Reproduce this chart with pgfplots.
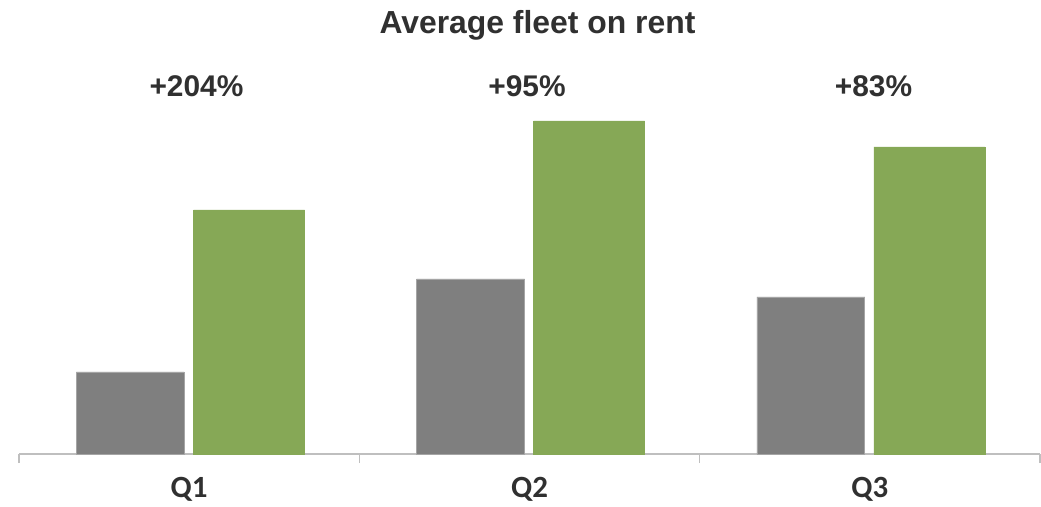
\documentclass[border=0pt]{standalone}
\usepackage{fontspec}
\setmainfont{Liberation Sans}
\newfontfamily\carlito{Carlito}
\usepackage{pgfplots}
\pgfplotsset{compat=1.18}
\definecolor{barGray}{HTML}{7F7F7F}
\definecolor{barGreen}{HTML}{86A856}
\definecolor{axGray}{HTML}{BFBFBF}
\definecolor{txt}{HTML}{303030}
\begin{document}
\begin{tikzpicture}
\useasboundingbox (0,0) rectangle (1041bp,507bp);
\begin{axis}[
  at={(19bp,53bp)}, anchor=south west,
  scale only axis, width=1021bp, height=454bp,
  xmin=0, xmax=3, ymin=0, ymax=454,
  clip=false,
  axis x line*=bottom, axis y line=none,
  x axis line style={draw=axGray, line width=1.5bp},
  xtick={0.5,1.5,2.5}, xticklabels={Q1,Q2,Q3},
  major tick length=0pt,
  minor xtick={0,1,2,3}, minor tick length=9bp, tick align=outside,
  minor tick style={draw=axGray, line width=1.2bp},
  xticklabel style={font=\carlito\bfseries\fontsize{31}{34}\selectfont, text=txt, inner sep=0pt, yshift=-23.5bp},
]
\addplot[ybar, bar width=0.317, bar shift=0pt, fill=barGray, draw=barGray!70!white, line width=0.8bp]
  coordinates {(0.327,82) (1.327,175) (2.327,157)};
\addplot[ybar, bar width=0.326, bar shift=0pt, fill=barGreen, draw=barGreen, line width=0.5bp]
  coordinates {(0.676,244) (1.675,333) (2.675,307)};
\node[anchor=base, font=\bfseries\fontsize{32}{38}\selectfont, text=txt] at (axis cs:1.5235,420) {Average fleet on rent};
\node[anchor=base, font=\bfseries\fontsize{30}{36}\selectfont, text=txt] at (axis cs:0.5215,357.5) {+204\%};
\node[anchor=base, font=\bfseries\fontsize{30}{36}\selectfont, text=txt] at (axis cs:1.4927,357.5) {+95\%};
\node[anchor=base, font=\bfseries\fontsize{30}{36}\selectfont, text=txt] at (axis cs:2.5108,357.5) {+83\%};
\end{axis}
\end{tikzpicture}
\end{document}
